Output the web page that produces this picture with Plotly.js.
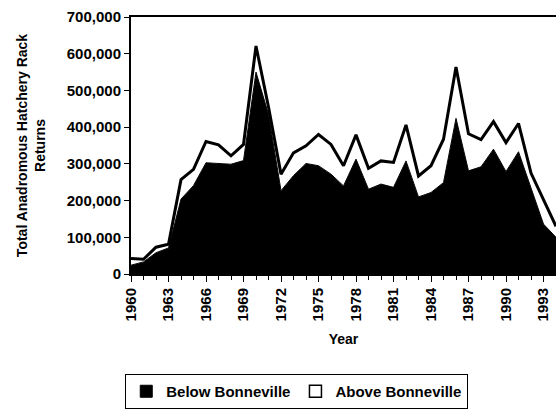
<!DOCTYPE html>
<html>
<head>
<meta charset="utf-8">
<script src="https://cdn.plot.ly/plotly-3.0.1.min.js"></script>
<style>html,body{margin:0;padding:0;background:#fff;}#chart{width:556px;height:409px;}</style>
</head>
<body>
<div id="chart"></div>
<script>
const years = [1960,1961,1962,1963,1964,1965,1966,1967,1968,1969,1970,1971,1972,1973,1974,1975,1976,1977,1978,1979,1980,1981,1982,1983,1984,1985,1986,1987,1988,1989,1990,1991,1992,1993,1994];
const belowBonneville = [24000,33000,58000,71000,204000,241000,303000,301000,299000,309000,550000,435000,227000,268000,301000,295000,272000,240000,313000,231000,245000,236000,308000,210000,222000,249000,424000,281000,292000,340000,279000,333000,235000,136000,100000];
const aboveBonneville = [18000,7000,15000,10000,53000,44000,58000,51000,23000,44000,71000,20000,45000,62000,48000,85000,81000,55000,66000,57000,63000,68000,98000,57000,73000,118000,140000,101000,74000,75000,79000,77000,40000,68000,30000];
const xTickYears = [1960,1963,1966,1969,1972,1975,1978,1981,1984,1987,1990,1993];
const seriesNames = ['Below Bonneville','Above Bonneville'];

const font = {family:'Liberation Sans, Arial, sans-serif', color:'#000', weight:'bold'};

const traces = [
  {x:years, y:belowBonneville, type:'scatter', mode:'lines', stackgroup:'s', fill:'tozeroy',
   fillcolor:'#000', line:{color:'#000', width:1}, showlegend:false, hoverinfo:'skip'},
  {x:years, y:aboveBonneville, type:'scatter', mode:'lines', stackgroup:'s', fill:'tonexty',
   fillcolor:'#fff', line:{color:'#000', width:3}, showlegend:false, hoverinfo:'skip'},
  {x:[null], y:[null], type:'scatter', mode:'markers', name:seriesNames[0],
   marker:{symbol:'square', size:12, color:'#000', line:{color:'#000', width:1}}},
  {x:[null], y:[null], type:'scatter', mode:'markers', name:seriesNames[1],
   marker:{symbol:'square', size:12, color:'#fff', line:{color:'#000', width:1.5}}}
];

const layout = {
  width:556, height:409,
  margin:{l:131, r:0, t:17, b:132},
  paper_bgcolor:'#fff', plot_bgcolor:'#fff',
  font:Object.assign({size:14}, font),
  xaxis:{
    range:[1960,1994], tickvals:xTickYears, ticktext:xTickYears.map(String),
    tickangle:-90, ticks:'outside', ticklen:6, tickwidth:1, tickcolor:'#000',
    minor:{dtick:1, tick0:1960, ticks:'outside', ticklen:4, tickcolor:'#000'},
    showline:true, linecolor:'#000', linewidth:2, mirror:true,
    showgrid:false, zeroline:false,
    tickfont:Object.assign({size:15}, font),
    title:{text:'Year', font:Object.assign({size:14}, font), standoff:14}
  },
  yaxis:{
    range:[0,700000], dtick:100000, tickformat:',d',
    ticks:'outside', ticklen:5, tickcolor:'#000',
    showline:true, linecolor:'#000', linewidth:2,
    showgrid:false, zeroline:false,
    tickfont:Object.assign({size:15}, font),
    title:{text:'Total Anadromous Hatchery Rack<br>Returns', font:Object.assign({size:14}, font), standoff:18}
  },
  legend:{
    orientation:'h', x:0.39, xanchor:'center', y:-0.39, yanchor:'top',
    bordercolor:'#000', borderwidth:1, bgcolor:'#fff', traceorder:'normal',
    font:Object.assign({size:15}, font), itemwidth:30, tracegroupgap:0
  },
  showlegend:true
};

Plotly.newPlot('chart', traces, layout, {displayModeBar:false, staticPlot:true});
</script>
</body>
</html>
